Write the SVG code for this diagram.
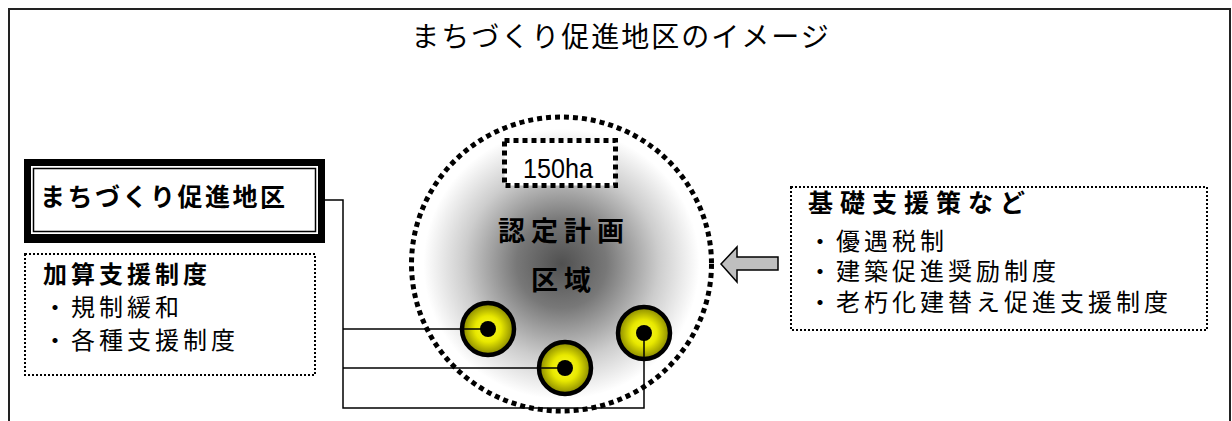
<svg xmlns="http://www.w3.org/2000/svg" width="1232" height="421" viewBox="0 0 1232 421">
<style>
.jp{font-family:"Noto Sans CJK JP","Noto Sans CJK SC",sans-serif;fill:#000}
.b{font-weight:bold}
.body{font-size:24px;letter-spacing:4px}
.dotbox{fill:#fff;stroke:#000;stroke-width:2;stroke-dasharray:2 2}
.conn{fill:none;stroke:#000;stroke-width:1.5}
.site{fill:url(#yel);stroke:#000;stroke-width:4.5}
</style>
<defs>
<radialGradient id="gray" cx="0.5" cy="0.5" r="0.5">
<stop offset="0" stop-color="#505050"/>
<stop offset="0.3" stop-color="#787878"/>
<stop offset="0.65" stop-color="#cdcdcd"/>
<stop offset="0.92" stop-color="#fff"/>
</radialGradient>
<radialGradient id="yel" cx="0.5" cy="0.5" r="0.5">
<stop offset="0" stop-color="#ffff30"/>
<stop offset="0.5" stop-color="#e8e800"/>
<stop offset="1" stop-color="#858500"/>
</radialGradient>
</defs>
<rect width="1232" height="421" fill="#fff"/>
<g id="frame"><rect x="9" y="9" width="1221" height="430" fill="none" stroke="#222" stroke-width="2"/></g>
<g id="title"><text class="jp" x="621" y="47" font-size="28" letter-spacing="2" text-anchor="middle">まちづくり促進地区のイメージ</text></g>

<g id="area">
<ellipse cx="561.5" cy="264" rx="150" ry="147" fill="url(#gray)" stroke="#000" stroke-width="5" stroke-dasharray="5 4"/>
<rect x="504.5" y="140.5" width="111" height="45" fill="#fff" stroke="#000" stroke-width="5" stroke-dasharray="5 4"/>
<text x="523" y="178" font-family="Liberation Sans, sans-serif" font-size="28" textLength="70" lengthAdjust="spacingAndGlyphs">150ha</text>
<text class="jp b" x="564" y="241" font-size="27" letter-spacing="6" text-anchor="middle">認定計画</text>
<text class="jp b" x="564" y="290" font-size="27" letter-spacing="6" text-anchor="middle">区域</text>
</g>

<g id="site1"><circle class="site" cx="488" cy="329" r="26"/></g>
<g id="site2"><circle class="site" cx="565" cy="368" r="26"/></g>
<g id="site3"><circle class="site" cx="644" cy="333" r="26"/></g>

<g id="district-box">
<rect x="24" y="159" width="301" height="84" fill="#000"/>
<rect x="31" y="166" width="287" height="68" fill="#fff"/>
<rect x="33.5" y="168.5" width="282" height="63" fill="none" stroke="#000" stroke-width="1.5"/>
<text class="jp b" x="40" y="206" font-size="25" letter-spacing="2.5">まちづくり促進地区</text>
</g>

<g id="kasan-box">
<rect class="dotbox" x="25" y="254" width="290" height="121"/>
<text class="jp b body" x="43" y="283">加算支援制度</text>
<text class="jp body" x="43" y="316">・規制緩和</text>
<text class="jp body" x="43" y="349">・各種支援制度</text>
</g>

<g id="connectors">
<polyline class="conn" points="325,200 343,200 343,408 644,408 644,333"/>
<line class="conn" x1="343" y1="329" x2="488" y2="329"/>
<line class="conn" x1="343" y1="368" x2="565" y2="368"/>
<circle cx="488" cy="329" r="8"/>
<circle cx="565" cy="368" r="8"/>
<circle cx="644" cy="333" r="8"/>
</g>

<g id="arrow"><polygon points="721,264 737,247 737,257 778,257 778,270 737,270 737,282" fill="#bfbfbf" stroke="#000" stroke-width="1.5" stroke-linejoin="miter"/></g>

<g id="kiso-box">
<rect class="dotbox" x="791" y="187" width="416" height="143"/>
<text class="jp b" x="808" y="212" font-size="25" letter-spacing="7">基礎支援策など</text>
<text class="jp body" x="808" y="250">・優遇税制</text>
<text class="jp body" x="808" y="280">・建築促進奨励制度</text>
<text class="jp body" x="808" y="311">・老朽化建替え促進支援制度</text>
</g>
</svg>
